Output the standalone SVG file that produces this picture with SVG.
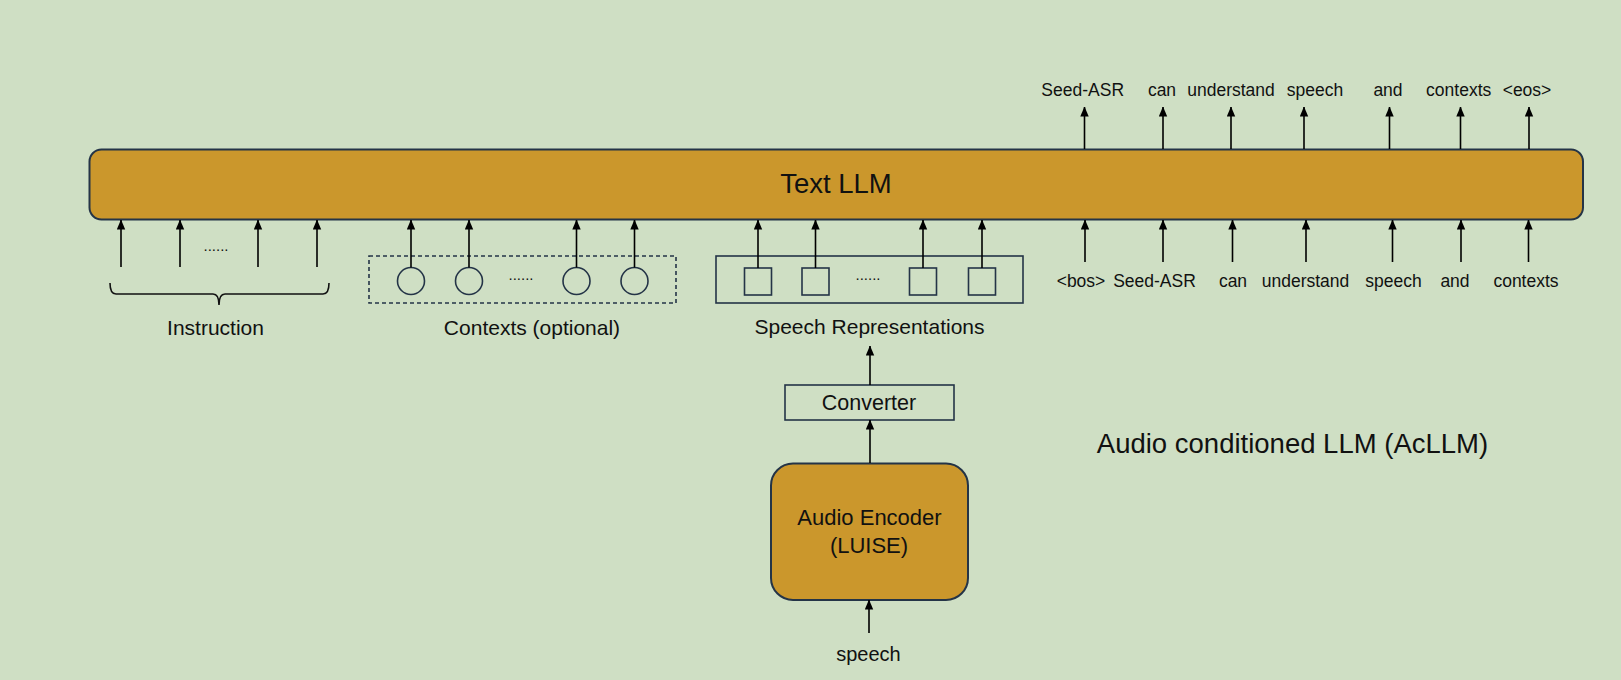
<svg xmlns="http://www.w3.org/2000/svg" width="1621" height="680" viewBox="0 0 1621 680">
<defs>
<marker id="ah" markerUnits="userSpaceOnUse" markerWidth="10" markerHeight="9" viewBox="0 0 10 9" refX="9.5" refY="4.5" orient="auto">
<path d="M0,0.3 L10,4.5 L0,8.7 z" fill="#000"/>
</marker>
<style>
text{font-family:"Liberation Sans",Arial,sans-serif;fill:#111;text-anchor:middle}
.tok{font-size:17.5px}
.lbl{font-size:21px}
.dots{font-size:15px}
.gold{fill:#CB972C;stroke:#243447;stroke-width:2}
.box{fill:none;stroke:#243447;stroke-width:1.6}
.dash{fill:none;stroke:#243447;stroke-width:1.6;stroke-dasharray:4 3}
.conn line{stroke:#000;stroke-width:1.6;marker-end:url(#ah)}
</style>
</defs>
<rect width="1621" height="680" fill="#CFDFC4"/>

<g id="text-llm">
<rect class="gold" x="89.5" y="149.5" width="1493.5" height="70" rx="12"/>
<text x="836" y="193" style="font-size:27.5px">Text LLM</text>
</g>

<g id="instruction">
<text class="dots" x="216" y="251">......</text>
<path d="M110,283 Q110,294 116,294 L213,294 Q219,294 219,305 Q219,294 225,294 L323,294 Q329,294 329,283" fill="none" stroke="#111" stroke-width="1.6"/>
<text class="lbl" x="215.5" y="335">Instruction</text>
</g>

<g id="contexts">
<rect class="dash" x="369" y="256" width="307" height="47"/>
<circle class="box" cx="411" cy="281" r="13.5"/>
<circle class="box" cx="469" cy="281" r="13.5"/>
<circle class="box" cx="576.5" cy="281" r="13.5"/>
<circle class="box" cx="634.5" cy="281" r="13.5"/>
<text class="dots" x="521" y="280">......</text>
<text class="lbl" x="532" y="335">Contexts (optional)</text>
</g>

<g id="speech-representations">
<rect class="box" x="716" y="256" width="307" height="47"/>
<rect class="box" x="744.5" y="268" width="27" height="27"/>
<rect class="box" x="802" y="268" width="27" height="27"/>
<rect class="box" x="909.5" y="268" width="27" height="27"/>
<rect class="box" x="968.5" y="268" width="27" height="27"/>
<text class="dots" x="868" y="280">......</text>
<text class="lbl" x="869.5" y="333.5">Speech Representations</text>
</g>

<g id="converter">
<rect class="box" x="785" y="385" width="169" height="35"/>
<text x="869" y="409.5" style="font-size:21.5px">Converter</text>
</g>

<g id="audio-encoder">
<rect class="gold" x="771" y="463.5" width="197" height="136.5" rx="22"/>
<text x="869.5" y="525" style="font-size:22px">Audio Encoder</text>
<text x="869" y="552.5" style="font-size:22px">(LUISE)</text>
</g>

<g id="speech-input">
<text x="868.5" y="661" style="font-size:20px">speech</text>
</g>

<g id="output-tokens">
<text class="tok" x="1082.7" y="95.5">Seed-ASR</text>
<text class="tok" x="1162" y="95.5">can</text>
<text class="tok" x="1231" y="95.5">understand</text>
<text class="tok" x="1315" y="95.5">speech</text>
<text class="tok" x="1388" y="95.5">and</text>
<text class="tok" x="1458.7" y="95.5">contexts</text>
<text class="tok" x="1527" y="95.5">&lt;eos&gt;</text>
</g>

<g id="input-tokens">
<text class="tok" x="1081" y="286.5">&lt;bos&gt;</text>
<text class="tok" x="1154.5" y="286.5">Seed-ASR</text>
<text class="tok" x="1233" y="286.5">can</text>
<text class="tok" x="1305.5" y="286.5">understand</text>
<text class="tok" x="1393.5" y="286.5">speech</text>
<text class="tok" x="1455" y="286.5">and</text>
<text class="tok" x="1526" y="286.5">contexts</text>
</g>

<g id="caption">
<text x="1292.5" y="453.3" style="font-size:27.5px">Audio conditioned LLM (AcLLM)</text>
</g>

<g id="connectors" class="conn">
<line x1="121" y1="267" x2="121" y2="220"/>
<line x1="180" y1="267" x2="180" y2="220"/>
<line x1="258" y1="267" x2="258" y2="220"/>
<line x1="317" y1="267" x2="317" y2="220"/>
<line x1="411" y1="267.5" x2="411" y2="220"/>
<line x1="469" y1="267.5" x2="469" y2="220"/>
<line x1="576.5" y1="267.5" x2="576.5" y2="220"/>
<line x1="634.5" y1="267.5" x2="634.5" y2="220"/>
<line x1="758" y1="268" x2="758" y2="220"/>
<line x1="815.5" y1="268" x2="815.5" y2="220"/>
<line x1="923" y1="268" x2="923" y2="220"/>
<line x1="982" y1="268" x2="982" y2="220"/>
<line x1="870" y1="385" x2="870" y2="346"/>
<line x1="870" y1="463" x2="870" y2="420"/>
<line x1="869" y1="633" x2="869" y2="600"/>
<line x1="1084.5" y1="149" x2="1084.5" y2="107"/>
<line x1="1163" y1="149" x2="1163" y2="107"/>
<line x1="1231" y1="149" x2="1231" y2="107"/>
<line x1="1304" y1="149" x2="1304" y2="107"/>
<line x1="1389.5" y1="149" x2="1389.5" y2="107"/>
<line x1="1460.5" y1="149" x2="1460.5" y2="107"/>
<line x1="1529" y1="149" x2="1529" y2="107"/>
<line x1="1085" y1="262" x2="1085" y2="220"/>
<line x1="1163" y1="262" x2="1163" y2="220"/>
<line x1="1232.5" y1="262" x2="1232.5" y2="220"/>
<line x1="1306" y1="262" x2="1306" y2="220"/>
<line x1="1392.5" y1="262" x2="1392.5" y2="220"/>
<line x1="1461" y1="262" x2="1461" y2="220"/>
<line x1="1528.5" y1="262" x2="1528.5" y2="220"/>
</g>
</svg>
